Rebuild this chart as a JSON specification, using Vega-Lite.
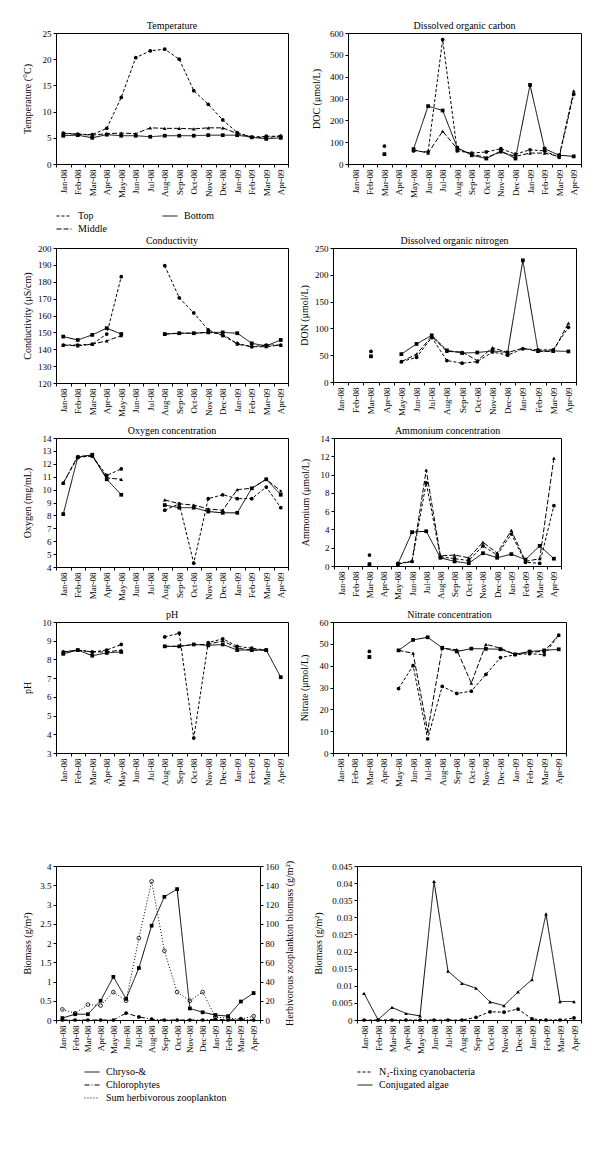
{
"$schema": "https://vega.github.io/schema/vega-lite/v6.json",
"background": "white",
"padding": {"top": 20, "left": 21, "right": 0, "bottom": 0},
"config": {
  "font": "Liberation Serif",
  "view": {"stroke": "black", "strokeWidth": 1},
  "axis": {"labelFont": "Liberation Serif", "labelFontSize": 9, "labelColor": "black", "titleFont": "Liberation Serif", "titleFontSize": 10, "titleFontWeight": "normal", "titleColor": "black", "domainColor": "black", "tickColor": "black", "tickSize": 3, "grid": false, "labelPadding": 2},
  "axisY": {"minExtent": 20, "maxExtent": 20, "titlePadding": 4, "format": "~f"},
  "title": {"font": "Liberation Serif", "fontSize": 10, "fontWeight": "normal", "offset": -2, "color": "black"},
  "legend": {"labelFont": "Liberation Serif", "labelFontSize": 10, "labelColor": "black", "symbolType": "stroke", "symbolSize": 225, "symbolStrokeWidth": 1, "symbolStrokeColor": "black", "offset": 10, "rowPadding": 0, "labelOffset": 6}
},
"datasets": {
  "temp": [
    {"month":"Jan-08","Top":5.9,"Middle":5.8,"Bottom":5.4},
    {"month":"Feb-08","Top":5.7,"Middle":5.7,"Bottom":5.5},
    {"month":"Mar-08","Top":5.6,"Middle":5.5,"Bottom":5.0},
    {"month":"Apr-08","Top":6.8,"Middle":5.8,"Bottom":5.6},
    {"month":"May-08","Top":12.7,"Middle":5.9,"Bottom":5.4},
    {"month":"Jun-08","Top":20.3,"Middle":5.8,"Bottom":5.4},
    {"month":"Jul-08","Top":21.6,"Middle":6.9,"Bottom":5.2},
    {"month":"Aug-08","Top":21.9,"Middle":6.8,"Bottom":5.4},
    {"month":"Sep-08","Top":20.0,"Middle":6.8,"Bottom":5.4},
    {"month":"Oct-08","Top":14.0,"Middle":6.7,"Bottom":5.4},
    {"month":"Nov-08","Top":11.4,"Middle":6.9,"Bottom":5.5},
    {"month":"Dec-08","Top":8.4,"Middle":6.9,"Bottom":5.5},
    {"month":"Jan-09","Top":6.0,"Middle":5.8,"Bottom":5.5},
    {"month":"Feb-09","Top":5.1,"Middle":5.2,"Bottom":5.1},
    {"month":"Mar-09","Top":5.3,"Middle":5.0,"Bottom":4.8},
    {"month":"Apr-09","Top":5.3,"Middle":5.4,"Bottom":5.0}
  ],
  "doc": [
    {"month":"Mar-08","Top":82,"Middle":46,"Bottom":45},
    {"month":"Apr-08","Top":null,"Middle":null,"Bottom":null},
    {"month":"May-08","Top":60,"Middle":65,"Bottom":68},
    {"month":"Jun-08","Top":55,"Middle":50,"Bottom":265},
    {"month":"Jul-08","Top":570,"Middle":150,"Bottom":245},
    {"month":"Aug-08","Top":60,"Middle":70,"Bottom":75},
    {"month":"Sep-08","Top":50,"Middle":45,"Bottom":40},
    {"month":"Oct-08","Top":55,"Middle":30,"Bottom":25},
    {"month":"Nov-08","Top":70,"Middle":55,"Bottom":60},
    {"month":"Dec-08","Top":45,"Middle":35,"Bottom":25},
    {"month":"Jan-09","Top":65,"Middle":50,"Bottom":362},
    {"month":"Feb-09","Top":60,"Middle":50,"Bottom":70},
    {"month":"Mar-09","Top":30,"Middle":35,"Bottom":40},
    {"month":"Apr-09","Top":320,"Middle":335,"Bottom":35}
  ],
  "cond": [
    {"month":"Jan-08","Top":142.5,"Middle":142.5,"Bottom":147.5},
    {"month":"Feb-08","Top":142.5,"Middle":142,"Bottom":145.5},
    {"month":"Mar-08","Top":143,"Middle":143,"Bottom":148.5},
    {"month":"Apr-08","Top":149,"Middle":145,"Bottom":152.5},
    {"month":"May-08","Top":183,"Middle":148,"Bottom":149},
    {"month":"Jun-08","Top":null,"Middle":null,"Bottom":null},
    {"month":"Jul-08","Top":null,"Middle":null,"Bottom":null},
    {"month":"Aug-08","Top":189.5,"Middle":149,"Bottom":149},
    {"month":"Sep-08","Top":170.5,"Middle":149.5,"Bottom":149.5},
    {"month":"Oct-08","Top":161.5,"Middle":149.5,"Bottom":149.5},
    {"month":"Nov-08","Top":151.5,"Middle":150,"Bottom":150},
    {"month":"Dec-08","Top":148,"Middle":149,"Bottom":150},
    {"month":"Jan-09","Top":143.5,"Middle":143,"Bottom":149.5},
    {"month":"Feb-09","Top":141.5,"Middle":141.5,"Bottom":143.5},
    {"month":"Mar-09","Top":142.5,"Middle":141.5,"Bottom":142},
    {"month":"Apr-09","Top":142.5,"Middle":142.5,"Bottom":145.5}
  ],
  "don": [
    {"month":"Mar-08","Top":57,"Middle":48,"Bottom":48},
    {"month":"Apr-08","Top":null,"Middle":null,"Bottom":null},
    {"month":"May-08","Top":38,"Middle":38,"Bottom":52},
    {"month":"Jun-08","Top":46,"Middle":52,"Bottom":71},
    {"month":"Jul-08","Top":83,"Middle":85,"Bottom":87},
    {"month":"Aug-08","Top":40,"Middle":57,"Bottom":59},
    {"month":"Sep-08","Top":35,"Middle":56,"Bottom":54},
    {"month":"Oct-08","Top":38,"Middle":40,"Bottom":55},
    {"month":"Nov-08","Top":56,"Middle":64,"Bottom":58},
    {"month":"Dec-08","Top":50,"Middle":55,"Bottom":55},
    {"month":"Jan-09","Top":62,"Middle":63,"Bottom":227},
    {"month":"Feb-09","Top":60,"Middle":57,"Bottom":58},
    {"month":"Mar-09","Top":60,"Middle":57,"Bottom":58},
    {"month":"Apr-09","Top":102,"Middle":110,"Bottom":57}
  ],
  "oxy": [
    {"month":"Jan-08","Top":10.5,"Middle":10.5,"Bottom":8.1},
    {"month":"Feb-08","Top":12.5,"Middle":12.6,"Bottom":12.5},
    {"month":"Mar-08","Top":12.6,"Middle":12.6,"Bottom":12.7},
    {"month":"Apr-08","Top":11.1,"Middle":10.9,"Bottom":10.8},
    {"month":"May-08","Top":11.6,"Middle":10.8,"Bottom":9.6},
    {"month":"Jun-08","Top":null,"Middle":null,"Bottom":null},
    {"month":"Jul-08","Top":null,"Middle":null,"Bottom":null},
    {"month":"Aug-08","Top":8.4,"Middle":9.2,"Bottom":8.8},
    {"month":"Sep-08","Top":8.9,"Middle":8.9,"Bottom":8.6},
    {"month":"Oct-08","Top":4.3,"Middle":8.8,"Bottom":8.6},
    {"month":"Nov-08","Top":9.3,"Middle":8.5,"Bottom":8.3},
    {"month":"Dec-08","Top":9.6,"Middle":8.4,"Bottom":8.2},
    {"month":"Jan-09","Top":9.3,"Middle":10.0,"Bottom":8.2},
    {"month":"Feb-09","Top":9.3,"Middle":10.1,"Bottom":10.1},
    {"month":"Mar-09","Top":10.2,"Middle":10.8,"Bottom":10.8},
    {"month":"Apr-09","Top":8.6,"Middle":9.9,"Bottom":9.6}
  ],
  "amm": [
    {"month":"Mar-08","Top":1.2,"Middle":0.2,"Bottom":0.2},
    {"month":"Apr-08","Top":null,"Middle":null,"Bottom":null},
    {"month":"May-08","Top":0.3,"Middle":0.2,"Bottom":0.2},
    {"month":"Jun-08","Top":0.5,"Middle":0.5,"Bottom":3.7},
    {"month":"Jul-08","Top":9.1,"Middle":10.5,"Bottom":3.8},
    {"month":"Aug-08","Top":1.0,"Middle":1.1,"Bottom":0.9},
    {"month":"Sep-08","Top":0.8,"Middle":1.2,"Bottom":0.5},
    {"month":"Oct-08","Top":0.6,"Middle":0.9,"Bottom":0.3},
    {"month":"Nov-08","Top":2.2,"Middle":2.6,"Bottom":1.4},
    {"month":"Dec-08","Top":1.2,"Middle":1.4,"Bottom":0.9},
    {"month":"Jan-09","Top":3.5,"Middle":3.9,"Bottom":1.3},
    {"month":"Feb-09","Top":0.4,"Middle":0.5,"Bottom":0.7},
    {"month":"Mar-09","Top":0.3,"Middle":0.8,"Bottom":2.2},
    {"month":"Apr-09","Top":6.6,"Middle":11.8,"Bottom":0.8}
  ],
  "ph": [
    {"month":"Jan-08","Top":8.4,"Middle":8.4,"Bottom":8.3},
    {"month":"Feb-08","Top":8.5,"Middle":8.5,"Bottom":8.5},
    {"month":"Mar-08","Top":8.4,"Middle":8.4,"Bottom":8.2},
    {"month":"Apr-08","Top":8.5,"Middle":8.4,"Bottom":8.35},
    {"month":"May-08","Top":8.8,"Middle":8.5,"Bottom":8.4},
    {"month":"Jun-08","Top":null,"Middle":null,"Bottom":null},
    {"month":"Jul-08","Top":null,"Middle":null,"Bottom":null},
    {"month":"Aug-08","Top":9.2,"Middle":8.7,"Bottom":8.7},
    {"month":"Sep-08","Top":9.4,"Middle":8.7,"Bottom":8.7},
    {"month":"Oct-08","Top":3.8,"Middle":8.8,"Bottom":8.8},
    {"month":"Nov-08","Top":8.9,"Middle":8.8,"Bottom":8.75},
    {"month":"Dec-08","Top":9.1,"Middle":9.0,"Bottom":8.8},
    {"month":"Jan-09","Top":8.7,"Middle":8.6,"Bottom":8.5},
    {"month":"Feb-09","Top":8.6,"Middle":8.5,"Bottom":8.5},
    {"month":"Mar-09","Top":8.5,"Middle":8.5,"Bottom":8.5},
    {"month":"Apr-09","Top":null,"Middle":null,"Bottom":7.05}
  ],
  "nit": [
    {"month":"Mar-08","Top":46.5,"Middle":44,"Bottom":44},
    {"month":"Apr-08","Top":null,"Middle":null,"Bottom":null},
    {"month":"May-08","Top":29.5,"Middle":47,"Bottom":47},
    {"month":"Jun-08","Top":40,"Middle":45.7,"Bottom":51.8},
    {"month":"Jul-08","Top":6.5,"Middle":10,"Bottom":53},
    {"month":"Aug-08","Top":30.5,"Middle":48,"Bottom":48.2},
    {"month":"Sep-08","Top":27.3,"Middle":47.3,"Bottom":46.5},
    {"month":"Oct-08","Top":28.3,"Middle":32,"Bottom":47.8},
    {"month":"Nov-08","Top":36,"Middle":49.8,"Bottom":47.7},
    {"month":"Dec-08","Top":43.7,"Middle":48,"Bottom":47.5},
    {"month":"Jan-09","Top":45,"Middle":45.2,"Bottom":45.2},
    {"month":"Feb-09","Top":45.5,"Middle":46.2,"Bottom":46.5},
    {"month":"Mar-09","Top":45,"Middle":46.5,"Bottom":47},
    {"month":"Apr-09","Top":54,"Middle":54,"Bottom":47.5}
  ],
  "bio": [
    {"month":"Jan-08","Chryso-&":0.05,"Chlorophytes":0,"Sum herbivorous zooplankton":11},
    {"month":"Feb-08","Chryso-&":0.15,"Chlorophytes":0,"Sum herbivorous zooplankton":7},
    {"month":"Mar-08","Chryso-&":0.15,"Chlorophytes":0,"Sum herbivorous zooplankton":16},
    {"month":"Apr-08","Chryso-&":0.5,"Chlorophytes":0,"Sum herbivorous zooplankton":15},
    {"month":"May-08","Chryso-&":1.12,"Chlorophytes":0,"Sum herbivorous zooplankton":29},
    {"month":"Jun-08","Chryso-&":0.55,"Chlorophytes":0.18,"Sum herbivorous zooplankton":20},
    {"month":"Jul-08","Chryso-&":1.35,"Chlorophytes":0.08,"Sum herbivorous zooplankton":85},
    {"month":"Aug-08","Chryso-&":2.45,"Chlorophytes":0.02,"Sum herbivorous zooplankton":144},
    {"month":"Sep-08","Chryso-&":3.2,"Chlorophytes":0,"Sum herbivorous zooplankton":72},
    {"month":"Oct-08","Chryso-&":3.4,"Chlorophytes":0,"Sum herbivorous zooplankton":29},
    {"month":"Nov-08","Chryso-&":0.3,"Chlorophytes":0,"Sum herbivorous zooplankton":20},
    {"month":"Dec-08","Chryso-&":0.2,"Chlorophytes":0,"Sum herbivorous zooplankton":29},
    {"month":"Jan-09","Chryso-&":0.13,"Chlorophytes":0.02,"Sum herbivorous zooplankton":3},
    {"month":"Feb-09","Chryso-&":0.1,"Chlorophytes":0,"Sum herbivorous zooplankton":2},
    {"month":"Mar-09","Chryso-&":0.48,"Chlorophytes":0.02,"Sum herbivorous zooplankton":1},
    {"month":"Apr-09","Chryso-&":0.7,"Chlorophytes":0,"Sum herbivorous zooplankton":4}
  ],
  "cyano": [
    {"month":"Jan-08","N₂-fixing cyanobacteria":0,"Conjugated algae":0.0078},
    {"month":"Feb-08","N₂-fixing cyanobacteria":0,"Conjugated algae":0.0001},
    {"month":"Mar-08","N₂-fixing cyanobacteria":0,"Conjugated algae":0.0037},
    {"month":"Apr-08","N₂-fixing cyanobacteria":0,"Conjugated algae":0.0019},
    {"month":"May-08","N₂-fixing cyanobacteria":0,"Conjugated algae":0.0012},
    {"month":"Jun-08","N₂-fixing cyanobacteria":0,"Conjugated algae":0.0405},
    {"month":"Jul-08","N₂-fixing cyanobacteria":0,"Conjugated algae":0.0143},
    {"month":"Aug-08","N₂-fixing cyanobacteria":0,"Conjugated algae":0.0107},
    {"month":"Sep-08","N₂-fixing cyanobacteria":0.0008,"Conjugated algae":0.0093},
    {"month":"Oct-08","N₂-fixing cyanobacteria":0.0024,"Conjugated algae":0.0053},
    {"month":"Nov-08","N₂-fixing cyanobacteria":0.0023,"Conjugated algae":0.0042},
    {"month":"Dec-08","N₂-fixing cyanobacteria":0.0032,"Conjugated algae":0.0082},
    {"month":"Jan-09","N₂-fixing cyanobacteria":0.0003,"Conjugated algae":0.0118},
    {"month":"Feb-09","N₂-fixing cyanobacteria":0,"Conjugated algae":0.031},
    {"month":"Mar-09","N₂-fixing cyanobacteria":0,"Conjugated algae":0.0054},
    {"month":"Apr-09","N₂-fixing cyanobacteria":0.0006,"Conjugated algae":0.0054}
  ]
},
"resolve": {"scale": {"strokeDash": "independent", "shape": "independent"}, "legend": {"strokeDash": "independent", "shape": "independent"}},
"spacing": 73,
"vconcat": [
{
"spacing": 0,
"resolve": {"scale": {"strokeDash": "independent", "shape": "independent"}, "legend": {"strokeDash": "independent", "shape": "independent"}},
"vconcat": [
{
"spacing": 21,
"resolve": {"scale": {"strokeDash": "independent", "shape": "independent"}, "legend": {"strokeDash": "independent", "shape": "independent"}},
"hconcat": [
{
 "width": 232, "height": 131, "title": "Temperature",
 "data": {"name": "temp"},
 "encoding": {
   "x": {"field":"month","type":"ordinal","sort":["Jan-08","Feb-08","Mar-08","Apr-08","May-08","Jun-08","Jul-08","Aug-08","Sep-08","Oct-08","Nov-08","Dec-08","Jan-09","Feb-09","Mar-09","Apr-09"],"scale":{"type":"band","domain":["Jan-08","Feb-08","Mar-08","Apr-08","May-08","Jun-08","Jul-08","Aug-08","Sep-08","Oct-08","Nov-08","Dec-08","Jan-09","Feb-09","Mar-09","Apr-09"],"paddingInner":0,"paddingOuter":0},"axis":{"title":null,"labelAngle":270,"tickBand":"extent","labelOverlap":false}},
   "y": {"field":"value","type":"quantitative","scale":{"domain":[0,25],"nice":false,"zero":false},"axis":{"title":"Temperature (°C)","values":[0,5,10,15,20,25]}}
 },
 "layer": [
   {"transform": [{"fold": ["Top","Middle","Bottom"], "as": ["series","value"]}], "mark": {"type":"line","color":"black","strokeWidth":1,"invalid":"break-paths-show-domains"}, "encoding": {"strokeDash": {"field":"series","type":"nominal","scale":{"domain":["Top","Bottom","Middle"],"range":[[3,2],[1,0],[5,2]]},"legend":{"title":null,"orient":"bottom","direction":"horizontal","columns":2,"columnPadding":53}}}},
   {"transform": [{"fold": ["Top","Middle","Bottom"], "as": ["depth","value"]}], "mark": {"type":"point","filled":true,"color":"black","size":14,"opacity":1}, "encoding": {"shape": {"field":"depth","type":"nominal","scale":{"domain":["Top","Middle","Bottom"],"range":["circle","triangle-up","square"]},"legend":null}}}
 ]
},
{
 "width": 233, "height": 131, "title": "Dissolved organic carbon",
 "data": {"name": "doc"},
 "encoding": {
   "x": {"field":"month","type":"ordinal","sort":["Jan-08","Feb-08","Mar-08","Apr-08","May-08","Jun-08","Jul-08","Aug-08","Sep-08","Oct-08","Nov-08","Dec-08","Jan-09","Feb-09","Mar-09","Apr-09"],"scale":{"type":"band","domain":["Jan-08","Feb-08","Mar-08","Apr-08","May-08","Jun-08","Jul-08","Aug-08","Sep-08","Oct-08","Nov-08","Dec-08","Jan-09","Feb-09","Mar-09","Apr-09"],"paddingInner":0,"paddingOuter":0},"axis":{"title":null,"labelAngle":270,"tickBand":"extent","labelOverlap":false}},
   "y": {"field":"value","type":"quantitative","scale":{"domain":[0,600],"nice":false,"zero":false},"axis":{"title":"DOC (μmol/L)","values":[0,100,200,300,400,500,600],"minExtent":23,"maxExtent":23}}
 },
 "layer": [
   {"transform": [{"fold": ["Top","Middle","Bottom"], "as": ["series","value"]}], "mark": {"type":"line","color":"black","strokeWidth":1,"invalid":"break-paths-show-domains"}, "encoding": {"strokeDash": {"field":"series","type":"nominal","scale":{"domain":["Top","Bottom","Middle"],"range":[[3,2],[1,0],[5,2]]},"legend":null}}},
   {"transform": [{"fold": ["Top","Middle","Bottom"], "as": ["depth","value"]}], "mark": {"type":"point","filled":true,"color":"black","size":14,"opacity":1}, "encoding": {"shape": {"field":"depth","type":"nominal","scale":{"domain":["Top","Middle","Bottom"],"range":["circle","triangle-up","square"]},"legend":null}}}
 ]
}
]
},
{
"spacing": 8,
"resolve": {"scale": {"strokeDash": "independent", "shape": "independent"}, "legend": {"strokeDash": "independent", "shape": "independent"}},
"vconcat": [
{
"spacing": 9,
"resolve": {"scale": {"strokeDash": "independent", "shape": "independent"}, "legend": {"strokeDash": "independent", "shape": "independent"}},
"hconcat": [
{
 "width": 232, "height": 135, "title": "Conductivity",
 "data": {"name": "cond"},
 "encoding": {
   "x": {"field":"month","type":"ordinal","sort":["Jan-08","Feb-08","Mar-08","Apr-08","May-08","Jun-08","Jul-08","Aug-08","Sep-08","Oct-08","Nov-08","Dec-08","Jan-09","Feb-09","Mar-09","Apr-09"],"scale":{"type":"band","domain":["Jan-08","Feb-08","Mar-08","Apr-08","May-08","Jun-08","Jul-08","Aug-08","Sep-08","Oct-08","Nov-08","Dec-08","Jan-09","Feb-09","Mar-09","Apr-09"],"paddingInner":0,"paddingOuter":0},"axis":{"title":null,"labelAngle":270,"tickBand":"extent","labelOverlap":false}},
   "y": {"field":"value","type":"quantitative","scale":{"domain":[120,200],"nice":false,"zero":false},"axis":{"title":"Conductivity (μS/cm)","values":[120,130,140,150,160,170,180,190,200]}}
 },
 "layer": [
   {"transform": [{"fold": ["Top","Middle","Bottom"], "as": ["series","value"]}], "mark": {"type":"line","color":"black","strokeWidth":1,"invalid":"break-paths-show-domains"}, "encoding": {"strokeDash": {"field":"series","type":"nominal","scale":{"domain":["Top","Bottom","Middle"],"range":[[3,2],[1,0],[5,2]]},"legend":null}}},
   {"transform": [{"fold": ["Top","Middle","Bottom"], "as": ["depth","value"]}], "mark": {"type":"point","filled":true,"color":"black","size":14,"opacity":1}, "encoding": {"shape": {"field":"depth","type":"nominal","scale":{"domain":["Top","Middle","Bottom"],"range":["circle","triangle-up","square"]},"legend":null}}}
 ]
},
{
 "width": 243, "height": 134, "title": "Dissolved organic nitrogen",
 "data": {"name": "don"},
 "encoding": {
   "x": {"field":"month","type":"ordinal","sort":["Jan-08","Feb-08","Mar-08","Apr-08","May-08","Jun-08","Jul-08","Aug-08","Sep-08","Oct-08","Nov-08","Dec-08","Jan-09","Feb-09","Mar-09","Apr-09"],"scale":{"type":"band","domain":["Jan-08","Feb-08","Mar-08","Apr-08","May-08","Jun-08","Jul-08","Aug-08","Sep-08","Oct-08","Nov-08","Dec-08","Jan-09","Feb-09","Mar-09","Apr-09"],"paddingInner":0,"paddingOuter":0},"axis":{"title":null,"labelAngle":270,"tickBand":"extent","labelOverlap":false}},
   "y": {"field":"value","type":"quantitative","scale":{"domain":[0,250],"nice":false,"zero":false},"axis":{"title":"DON (μmol/L)","values":[0,50,100,150,200,250]}}
 },
 "layer": [
   {"transform": [{"fold": ["Top","Middle","Bottom"], "as": ["series","value"]}], "mark": {"type":"line","color":"black","strokeWidth":1,"invalid":"break-paths-show-domains"}, "encoding": {"strokeDash": {"field":"series","type":"nominal","scale":{"domain":["Top","Bottom","Middle"],"range":[[3,2],[1,0],[5,2]]},"legend":null}}},
   {"transform": [{"fold": ["Top","Middle","Bottom"], "as": ["depth","value"]}], "mark": {"type":"point","filled":true,"color":"black","size":14,"opacity":1}, "encoding": {"shape": {"field":"depth","type":"nominal","scale":{"domain":["Top","Middle","Bottom"],"range":["circle","triangle-up","square"]},"legend":null}}}
 ]
}
]
},
{
"spacing": 10,
"resolve": {"scale": {"strokeDash": "independent", "shape": "independent"}, "legend": {"strokeDash": "independent", "shape": "independent"}},
"hconcat": [
{
 "width": 232, "height": 129, "title": "Oxygen concentration",
 "data": {"name": "oxy"},
 "encoding": {
   "x": {"field":"month","type":"ordinal","sort":["Jan-08","Feb-08","Mar-08","Apr-08","May-08","Jun-08","Jul-08","Aug-08","Sep-08","Oct-08","Nov-08","Dec-08","Jan-09","Feb-09","Mar-09","Apr-09"],"scale":{"type":"band","domain":["Jan-08","Feb-08","Mar-08","Apr-08","May-08","Jun-08","Jul-08","Aug-08","Sep-08","Oct-08","Nov-08","Dec-08","Jan-09","Feb-09","Mar-09","Apr-09"],"paddingInner":0,"paddingOuter":0},"axis":{"title":null,"labelAngle":270,"tickBand":"extent","labelOverlap":false}},
   "y": {"field":"value","type":"quantitative","scale":{"domain":[4,14],"nice":false,"zero":false},"axis":{"title":"Oxygen (mg/mL)","values":[4,5,6,7,8,9,10,11,12,13,14]}}
 },
 "layer": [
   {"transform": [{"fold": ["Top","Middle","Bottom"], "as": ["series","value"]}], "mark": {"type":"line","color":"black","strokeWidth":1,"invalid":"break-paths-show-domains"}, "encoding": {"strokeDash": {"field":"series","type":"nominal","scale":{"domain":["Top","Bottom","Middle"],"range":[[3,2],[1,0],[5,2]]},"legend":null}}},
   {"transform": [{"fold": ["Top","Middle","Bottom"], "as": ["depth","value"]}], "mark": {"type":"point","filled":true,"color":"black","size":14,"opacity":1}, "encoding": {"shape": {"field":"depth","type":"nominal","scale":{"domain":["Top","Middle","Bottom"],"range":["circle","triangle-up","square"]},"legend":null}}}
 ]
},
{
 "width": 227, "height": 128, "title": "Ammonium concentration",
 "data": {"name": "amm"},
 "encoding": {
   "x": {"field":"month","type":"ordinal","sort":["Jan-08","Feb-08","Mar-08","Apr-08","May-08","Jun-08","Jul-08","Aug-08","Sep-08","Oct-08","Nov-08","Dec-08","Jan-09","Feb-09","Mar-09","Apr-09"],"scale":{"type":"band","domain":["Jan-08","Feb-08","Mar-08","Apr-08","May-08","Jun-08","Jul-08","Aug-08","Sep-08","Oct-08","Nov-08","Dec-08","Jan-09","Feb-09","Mar-09","Apr-09"],"paddingInner":0,"paddingOuter":0},"axis":{"title":null,"labelAngle":270,"tickBand":"extent","labelOverlap":false}},
   "y": {"field":"value","type":"quantitative","scale":{"domain":[0,14],"nice":false,"zero":false},"axis":{"title":"Ammonium (μmol/L)","values":[0,2,4,6,8,10,12,14]}}
 },
 "layer": [
   {"transform": [{"fold": ["Top","Middle","Bottom"], "as": ["series","value"]}], "mark": {"type":"line","color":"black","strokeWidth":1,"invalid":"break-paths-show-domains"}, "encoding": {"strokeDash": {"field":"series","type":"nominal","scale":{"domain":["Top","Bottom","Middle"],"range":[[3,2],[1,0],[5,2]]},"legend":null}}},
   {"transform": [{"fold": ["Top","Middle","Bottom"], "as": ["depth","value"]}], "mark": {"type":"point","filled":true,"color":"black","size":14,"opacity":1}, "encoding": {"shape": {"field":"depth","type":"nominal","scale":{"domain":["Top","Middle","Bottom"],"range":["circle","triangle-up","square"]},"legend":null}}}
 ]
}
]
},
{
"spacing": 9,
"resolve": {"scale": {"strokeDash": "independent", "shape": "independent"}, "legend": {"strokeDash": "independent", "shape": "independent"}},
"hconcat": [
{
 "width": 232, "height": 131, "title": "pH",
 "data": {"name": "ph"},
 "encoding": {
   "x": {"field":"month","type":"ordinal","sort":["Jan-08","Feb-08","Mar-08","Apr-08","May-08","Jun-08","Jul-08","Aug-08","Sep-08","Oct-08","Nov-08","Dec-08","Jan-09","Feb-09","Mar-09","Apr-09"],"scale":{"type":"band","domain":["Jan-08","Feb-08","Mar-08","Apr-08","May-08","Jun-08","Jul-08","Aug-08","Sep-08","Oct-08","Nov-08","Dec-08","Jan-09","Feb-09","Mar-09","Apr-09"],"paddingInner":0,"paddingOuter":0},"axis":{"title":null,"labelAngle":270,"tickBand":"extent","labelOverlap":false}},
   "y": {"field":"value","type":"quantitative","scale":{"domain":[3,10],"nice":false,"zero":false},"axis":{"title":"pH","values":[3,4,5,6,7,8,9,10]}}
 },
 "layer": [
   {"transform": [{"fold": ["Top","Middle","Bottom"], "as": ["series","value"]}], "mark": {"type":"line","color":"black","strokeWidth":1,"invalid":"break-paths-show-domains"}, "encoding": {"strokeDash": {"field":"series","type":"nominal","scale":{"domain":["Top","Bottom","Middle"],"range":[[3,2],[1,0],[5,2]]},"legend":null}}},
   {"transform": [{"fold": ["Top","Middle","Bottom"], "as": ["depth","value"]}], "mark": {"type":"point","filled":true,"color":"black","size":14,"opacity":1}, "encoding": {"shape": {"field":"depth","type":"nominal","scale":{"domain":["Top","Middle","Bottom"],"range":["circle","triangle-up","square"]},"legend":null}}}
 ]
},
{
 "width": 233, "height": 131, "title": "Nitrate concentration",
 "data": {"name": "nit"},
 "encoding": {
   "x": {"field":"month","type":"ordinal","sort":["Jan-08","Feb-08","Mar-08","Apr-08","May-08","Jun-08","Jul-08","Aug-08","Sep-08","Oct-08","Nov-08","Dec-08","Jan-09","Feb-09","Mar-09","Apr-09"],"scale":{"type":"band","domain":["Jan-08","Feb-08","Mar-08","Apr-08","May-08","Jun-08","Jul-08","Aug-08","Sep-08","Oct-08","Nov-08","Dec-08","Jan-09","Feb-09","Mar-09","Apr-09"],"paddingInner":0,"paddingOuter":0},"axis":{"title":null,"labelAngle":270,"tickBand":"extent","labelOverlap":false}},
   "y": {"field":"value","type":"quantitative","scale":{"domain":[0,60],"nice":false,"zero":false},"axis":{"title":"Nitrate (μmol/L)","values":[0,10,20,30,40,50,60]}}
 },
 "layer": [
   {"transform": [{"fold": ["Top","Middle","Bottom"], "as": ["series","value"]}], "mark": {"type":"line","color":"black","strokeWidth":1,"invalid":"break-paths-show-domains"}, "encoding": {"strokeDash": {"field":"series","type":"nominal","scale":{"domain":["Top","Bottom","Middle"],"range":[[3,2],[1,0],[5,2]]},"legend":null}}},
   {"transform": [{"fold": ["Top","Middle","Bottom"], "as": ["depth","value"]}], "mark": {"type":"point","filled":true,"color":"black","size":14,"opacity":1}, "encoding": {"shape": {"field":"depth","type":"nominal","scale":{"domain":["Top","Middle","Bottom"],"range":["circle","triangle-up","square"]},"legend":null}}}
 ]
}
]
}
]
}
]
},
{
"spacing": 17,
"resolve": {"scale": {"strokeDash": "independent", "shape": "independent"}, "legend": {"strokeDash": "independent", "shape": "independent"}},
"hconcat": [
{
 "width": 204, "height": 154,
 "data": {"name": "bio"},
 "encoding": {
   "x": {"field":"month","type":"ordinal","sort":["Jan-08","Feb-08","Mar-08","Apr-08","May-08","Jun-08","Jul-08","Aug-08","Sep-08","Oct-08","Nov-08","Dec-08","Jan-09","Feb-09","Mar-09","Apr-09"],"scale":{"type":"band","domain":["Jan-08","Feb-08","Mar-08","Apr-08","May-08","Jun-08","Jul-08","Aug-08","Sep-08","Oct-08","Nov-08","Dec-08","Jan-09","Feb-09","Mar-09","Apr-09"],"paddingInner":0,"paddingOuter":0},"axis":{"title":null,"labelAngle":270,"tickBand":"extent","labelOverlap":false}}
 },
 "layer": [
   {
    "encoding": {"y": {"field":"value","type":"quantitative","scale":{"domain":[0,4],"nice":false,"zero":false},"axis":{"title":"Biomass (g/m²)","values":[0,0.5,1,1.5,2,2.5,3,3.5,4]}}},
    "layer": [
      {"transform": [{"fold": ["Chryso-&","Chlorophytes"], "as": ["series","value"]}], "mark": {"type":"line","color":"black","strokeWidth":1,"invalid":"break-paths-show-domains"}, "encoding": {"strokeDash": {"field":"series","type":"nominal","scale":{"domain":["Chryso-&","Chlorophytes","Sum herbivorous zooplankton"],"range":[[1,0],[5,2,1,2],[1,2]]},"legend":{"title":null,"orient":"bottom","direction":"vertical","columns":1,"padding":28,"offset":-18}}}},
      {"transform": [{"fold": ["Chryso-&","Chlorophytes"], "as": ["group","value"]}], "mark": {"type":"point","filled":true,"color":"black","size":14,"opacity":1}, "encoding": {"shape": {"field":"group","type":"nominal","scale":{"domain":["Chryso-&","Chlorophytes"],"range":["square","circle"]},"legend":null}}}
    ]
   },
   {
    "encoding": {"y": {"field":"value","type":"quantitative","scale":{"domain":[0,160],"nice":false,"zero":false},"axis":{"title":"Herbivorous zooplankton biomass (g/m²)","orient":"right","values":[0,20,40,60,80,100,120,140,160],"titleAngle":270,"titleBaseline":"top"}}},
    "layer": [
      {"transform": [{"fold": ["Sum herbivorous zooplankton"], "as": ["series","value"]}], "mark": {"type":"line","color":"black","strokeWidth":1,"invalid":"break-paths-show-domains"}, "encoding": {"strokeDash": {"field":"series","type":"nominal","scale":{"domain":["Chryso-&","Chlorophytes","Sum herbivorous zooplankton"],"range":[[1,0],[5,2,1,2],[1,2]]},"legend":{"title":null,"orient":"bottom","direction":"vertical","columns":1,"padding":28,"offset":-18}}}},
      {"transform": [{"fold": ["Sum herbivorous zooplankton"], "as": ["group","value"]}], "mark": {"type":"point","filled":false,"color":"black","size":14,"strokeWidth":0.8,"opacity":1,"shape":"circle"}, "encoding": {}}
    ]
   }
 ],
 "resolve": {"scale": {"y": "independent"}}
},
{
 "width": 224, "height": 154,
 "data": {"name": "cyano"},
 "encoding": {
   "x": {"field":"month","type":"ordinal","sort":["Jan-08","Feb-08","Mar-08","Apr-08","May-08","Jun-08","Jul-08","Aug-08","Sep-08","Oct-08","Nov-08","Dec-08","Jan-09","Feb-09","Mar-09","Apr-09"],"scale":{"type":"band","domain":["Jan-08","Feb-08","Mar-08","Apr-08","May-08","Jun-08","Jul-08","Aug-08","Sep-08","Oct-08","Nov-08","Dec-08","Jan-09","Feb-09","Mar-09","Apr-09"],"paddingInner":0,"paddingOuter":0},"axis":{"title":null,"labelAngle":270,"tickBand":"extent","labelOverlap":false}},
   "y": {"field":"value","type":"quantitative","scale":{"domain":[0,0.045],"nice":false,"zero":false},"axis":{"title":"Biomass (g/m²)","values":[0,0.005,0.01,0.015,0.02,0.025,0.03,0.035,0.04,0.045],"minExtent":30,"maxExtent":30}}
 },
 "layer": [
   {"transform": [{"fold": ["N₂-fixing cyanobacteria","Conjugated algae"], "as": ["series","value"]}], "mark": {"type":"line","color":"black","strokeWidth":1,"invalid":"break-paths-show-domains"}, "encoding": {"strokeDash": {"field":"series","type":"nominal","scale":{"domain":["N₂-fixing cyanobacteria","Conjugated algae"],"range":[[3,2],[1,0]]},"legend":{"title":null,"orient":"bottom","direction":"vertical","columns":1}}}},
   {"transform": [{"fold": ["N₂-fixing cyanobacteria","Conjugated algae"], "as": ["group","value"]}], "mark": {"type":"point","filled":true,"color":"black","size":14,"opacity":1}, "encoding": {"shape": {"field":"group","type":"nominal","scale":{"domain":["Conjugated algae","N₂-fixing cyanobacteria"],"range":["triangle-up","circle"]},"legend":null}}}
 ]
}
]
}
]
}
